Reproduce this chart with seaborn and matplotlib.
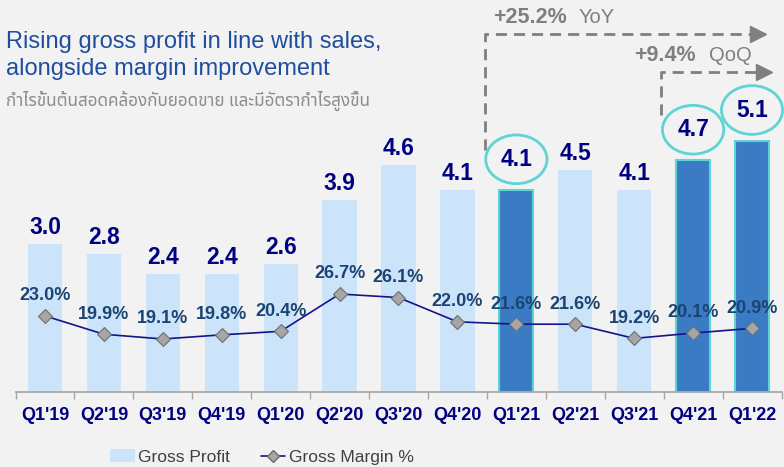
import numpy as np
import matplotlib
matplotlib.use("Agg")
import matplotlib.pyplot as plt
from matplotlib.patches import Patch
from matplotlib.lines import Line2D
import seaborn as sns

# data
quarters = ["Q1'19", "Q2'19", "Q3'19", "Q4'19", "Q1'20", "Q2'20", "Q3'20",
            "Q4'20", "Q1'21", "Q2'21", "Q3'21", "Q4'21", "Q1'22"]
gross_profit = [3.0, 2.8, 2.4, 2.4, 2.6, 3.9, 4.6, 4.1, 4.1, 4.5, 4.1, 4.7, 5.1]
gross_margin = [23.0, 19.9, 19.1, 19.8, 20.4, 26.7, 26.1, 22.0, 21.6, 21.6, 19.2, 20.1, 20.9]
highlight = ["Q1'21", "Q4'21", "Q1'22"]

BG = '#F2F2F2'
LIGHT = '#CCE4FA'
DARK = '#3A7BC4'
RING = '#5FD4D4'
NAVY = '#000080'
GRAY_TXT = '#7F7F7F'

sns.set_theme(style='white')
plt.rcParams['font.family'] = ['Liberation Sans', 'DejaVu Sans']

fig = plt.figure(figsize=(7.84, 4.67), dpi=100, facecolor=BG)
ax = fig.add_axes([15.5 / 784, 75 / 467, 766 / 784, 392 / 467])
ax.set_facecolor(BG)

bar_colors = [DARK if q in highlight else LIGHT for q in quarters]
sns.barplot(x=quarters, y=gross_profit, hue=quarters, palette=bar_colors,
            legend=False, width=0.58, saturation=1, ax=ax)
for patch, q in zip(ax.patches, quarters):
    if q in highlight:
        patch.set_edgecolor(RING)
        patch.set_linewidth(1.5)
    else:
        patch.set_edgecolor('none')

ax.set_xlim(-0.5, len(quarters) - 0.5)
ax.set_ylim(0, 392 / 49.3)

for i, (q, v) in enumerate(zip(quarters, gross_profit)):
    if q in highlight:
        ax.text(i, v + 0.62, f'{v:.1f}', ha='center', va='center', fontsize=16.5,
                fontweight='bold', color=NAVY,
                bbox=dict(boxstyle='ellipse,pad=0.25', fc='none', ec=RING, lw=2))
    else:
        ax.text(i, v + 0.33, f'{v:.1f}', ha='center', va='center', fontsize=16.5,
                fontweight='bold', color=NAVY)

# margin on a secondary axis
ax2 = ax.twinx()
sns.lineplot(x=np.arange(len(quarters)), y=gross_margin, color='#14148C', lw=1.2,
             marker='D', markersize=7, markerfacecolor='#A6A6A6',
             markeredgecolor='#6E6E6E', markeredgewidth=0.8, ax=ax2)
ax2.set_ylim(26.7 - 98 / 5.92, 26.7 + 294 / 5.92)
ax2.set_yticks([])
for i, m in enumerate(gross_margin):
    ax2.text(i, m + 3.4, f'{m:.1f}%', ha='center', va='center', fontsize=13,
             fontweight='bold', color='#1B4472')

# axis styling
for a in (ax, ax2):
    for s in ('top', 'right', 'left'):
        a.spines[s].set_visible(False)
    a.spines['bottom'].set_color('#A6A6A6')
ax2.spines['bottom'].set_visible(False)
ax.set_yticks([])
ax.set_xticks(range(len(quarters)))
ax.set_xticklabels(quarters, fontsize=13, fontweight='bold', color=NAVY)
ax.tick_params(axis='x', length=0, pad=11)
ax.set_xticks(np.arange(-0.5, len(quarters), 1), minor=True)
ax.tick_params(axis='x', which='minor', length=5, color='#A6A6A6', direction='out', bottom=True)

# YoY / QoQ growth arrows
dash = dict(color='#7F7F7F', lw=2, ls=(0, (4, 2.5)))
ax.plot([7.47, 7.47, 12.0], [4.91, 7.26, 7.26], **dash)
ax.plot([12.1], [7.26], marker='>', ms=11, color='#7F7F7F')
ax.plot([10.46, 10.46, 12.1], [5.62, 6.49, 6.49], **dash)
ax.plot([12.2], [6.49], marker='>', ms=11, color='#7F7F7F')
ax.text(7.6, 7.6, '+25.2%', ha='left', va='center', fontsize=15.5,
        fontweight='bold', color=GRAY_TXT)
ax.text(9.05, 7.6, 'YoY', ha='left', va='center', fontsize=14.5, color=GRAY_TXT)
ax.text(10.0, 6.83, '+9.4%', ha='left', va='center', fontsize=15.5,
        fontweight='bold', color=GRAY_TXT)
ax.text(11.27, 6.83, 'QoQ', ha='left', va='center', fontsize=14.5, color=GRAY_TXT)

# titles
fig.text(6 / 784, 1 - 42 / 467, 'Rising gross profit in line with sales,', ha='left',
         va='center', fontsize=17, color='#1F4E9E')
fig.text(6 / 784, 1 - 69 / 467, 'alongside margin improvement', ha='left',
         va='center', fontsize=17, color='#1F4E9E')
fig.text(6 / 784, 1 - 101 / 467, 'กำไรขั้นต้นสอดคล้องกับยอดขาย และมีอัตรากำไรสูงขึ้น', ha='left',
         va='center', fontsize=12.3, color='#8C8C8C',
         family=['Noto Sans Thai', 'Noto Sans', 'Liberation Sans', 'DejaVu Sans'])

handles = [Patch(facecolor=LIGHT, edgecolor='none'),
           Line2D([0], [0], color='#14148C', lw=1.2, marker='D', markersize=6,
                  markerfacecolor='#A6A6A6', markeredgecolor='#6E6E6E')]
fig.legend(handles, ['Gross Profit', 'Gross Margin %'], loc='center',
           bbox_to_anchor=(262 / 784, 10 / 467), ncol=2, frameon=False,
           fontsize=12.5, handlelength=1.4, columnspacing=1.8, handletextpad=0.2,
           labelcolor='#404040')

fig.savefig('out.png', dpi=100, facecolor=BG)
